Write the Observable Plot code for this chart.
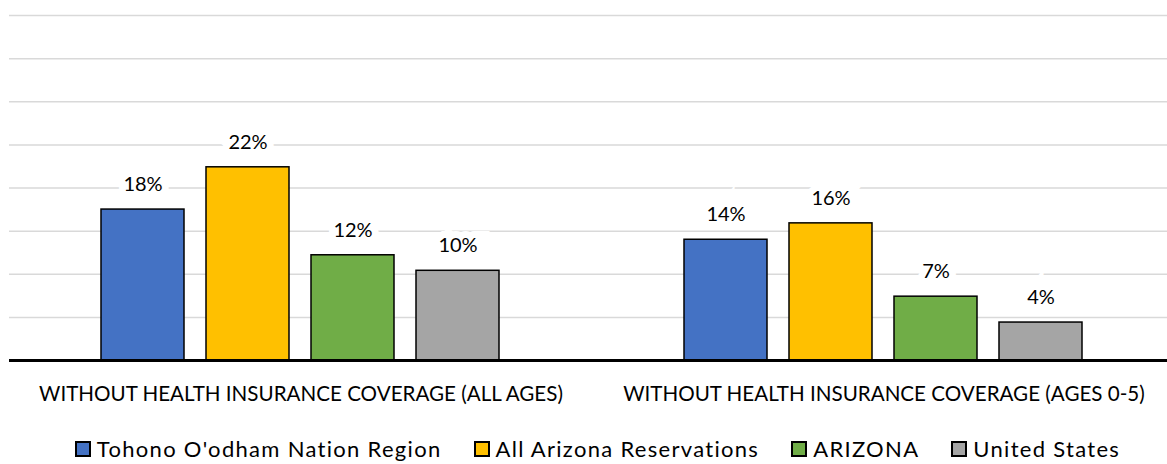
<!DOCTYPE html>
<html>
<head>
<meta charset="utf-8">
<script src="https://cdn.jsdelivr.net/npm/d3@7"></script>
<script src="https://cdn.jsdelivr.net/npm/@observablehq/plot@0.6"></script>
<style>
  html, body { margin: 0; padding: 0; background: #fff; overflow: hidden; }
  #chart { width: 1167px; }
  .legend { width: 1167px; box-sizing: border-box; padding-left: 28px; display: flex; justify-content: center; align-items: center; gap: 32px;
            font-family: Lato, sans-serif; font-size: 22px; letter-spacing: 1.3px; color: #000; margin-top: 20px; }
  .legend .item { display: flex; align-items: center; }
  .legend .sw { width: 12px; height: 12px; border: 2px solid #000; margin-right: 6px; box-sizing: content-box; }
</style>
</head>
<body>
<div id="chart"></div>
<script>
const groups = ["WITHOUT HEALTH INSURANCE COVERAGE (ALL AGES)", "WITHOUT HEALTH INSURANCE COVERAGE (AGES 0-5)"];
const series = ["Tohono O'odham Nation Region", "All Arizona Reservations", "ARIZONA", "United States"];
const colors = ["#4472C4", "#FFC000", "#70AD47", "#A5A5A5"];
const allAges = [17.5, 22.4, 12.2, 10.4];
const ages0to5 = [14.0, 15.9, 7.4, 4.4];
const gridTicks = [5, 10, 15, 20, 25, 30, 35, 40];

const data = [];
[allAges, ages0to5].forEach((vals, gi) => {
  vals.forEach((v, si) => data.push({group: groups[gi], series: series[si], value: v}));
});

const chart = Plot.plot({
  width: 1167,
  height: 415,
  marginLeft: 9,
  marginRight: -8,
  marginTop: 15,
  marginBottom: 55,
  style: {fontFamily: "Lato, sans-serif", fontSize: "16px", color: "#000", background: "#fff"},
  fx: {domain: groups, padding: 0, label: null},
  x: {domain: series, paddingInner: 0.2075, paddingOuter: 0.854, axis: null},
  y: {domain: [0, 40], axis: null},
  color: {domain: series, range: colors},
  marks: [
    Plot.ruleY(gridTicks, {stroke: "#d9d9d9", strokeWidth: 1.5}),
    Plot.barY(data, {fx: "group", x: "series", y: "value", fill: "series", stroke: "black", strokeWidth: 1.5}),
    Plot.text(data, {fx: "group", x: "series", y: "value", text: d => Math.round(d.value) + "%",
      dy: -25, fontSize: 20, fill: "black", stroke: "white", strokeWidth: 14, strokeLinejoin: "miter", paintOrder: "stroke"}),
    Plot.ruleY([0], {stroke: "black", strokeWidth: 3}),
    Plot.axisFx({anchor: "bottom", tickSize: 0, tickPadding: 26, fontSize: 20.6, label: null, fill: "black"})
  ]
});
document.getElementById("chart").append(chart);

const legend = document.createElement("div");
legend.className = "legend";
series.forEach((s, i) => {
  const item = document.createElement("div");
  item.className = "item";
  const sw = document.createElement("span");
  sw.className = "sw";
  sw.style.background = colors[i];
  const t = document.createElement("span");
  t.textContent = s;
  item.append(sw, t);
  legend.append(item);
});
document.body.append(legend);
</script>
</body>
</html>
